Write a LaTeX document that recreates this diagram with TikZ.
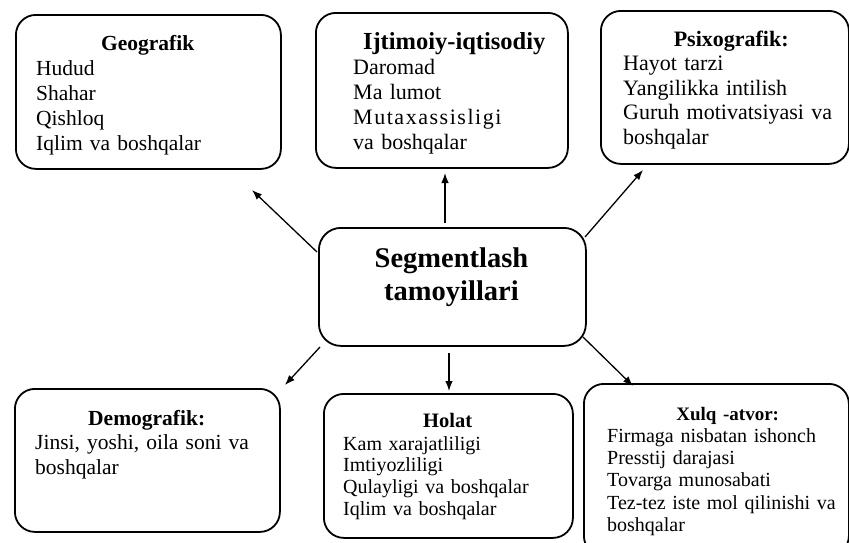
\documentclass[tikz,border=0pt]{standalone}
\usepackage{fontspec}
\setmainfont{Liberation Serif}
\usetikzlibrary{arrows.meta}

\begin{document}
\begin{tikzpicture}[x=1pt,y=-1pt,
  frame/.style={draw, line width=1.8pt, rounded corners=20pt, inner sep=0pt, anchor=north west},
  body/.style={inner sep=0pt, anchor=base west, align=left},
  link/.style={line width=1.3pt, -{Latex[length=10pt,width=7.5pt]}}]

\useasboundingbox[fill=white] (0,0) rectangle (849,542);

% ---- frames ----
\node[frame, minimum width=265pt, minimum height=154pt] (geo)   at (15,14)  {};
\node[frame, minimum width=252pt, minimum height=155pt] (soc)   at (315,12) {};
\node[frame, minimum width=248pt, minimum height=153pt] (psy)   at (600,10) {};
\node[frame, minimum width=267pt, minimum height=118pt, rounded corners=22pt] (seg) at (318,227) {};
\node[frame, minimum width=265pt, minimum height=143pt] (dem)   at (14,388) {};
\node[frame, minimum width=249pt, minimum height=144pt] (hol)   at (323,393) {};
\node[frame, minimum width=265pt, minimum height=172pt] (beh)   at (583,383) {};

% ---- centre title ----
\node[inner sep=0pt, anchor=base, text width=250pt, font=\fontsize{28.5}{33}\selectfont\bfseries, align=center]
  (segtxt) at (451.5,267) {Segmentlash\\tamoyillari};

% ---- texts ----
\node[body, text width=223pt, font=\fontsize{21.5}{25}\selectfont] (geotxt) at (36,50.5)
  {\makebox[\linewidth]{\bfseries Geografik}\\
   Hudud\\ Shahar\\ Qishloq\\ Iqlim va boshqalar};

\node[body, text width=202pt, font=\fontsize{22}{25}\selectfont] (soctxt) at (353,49)
  {\makebox[\linewidth]{\fontsize{24.5}{25}\selectfont\bfseries Ijtimoiy-iqtisodiy}\\
   Daromad\\ Ma lumot\\ {\addfontfeatures{LetterSpace=7}Mutaxassisligi}\\ va boshqalar};

\node[body, text width=216pt, font=\fontsize{22}{24.5}\selectfont] (psytxt) at (623,46)
  {\makebox[\linewidth]{\bfseries Psixografik:}\\
   Hayot tarzi\\ Yangilikka intilish\\
   \makebox[\linewidth][s]{Guruh motivatsiyasi va}\\ boshqalar};

\node[body, text width=223pt, font=\fontsize{21.5}{24.5}\selectfont] (demtxt) at (35,425)
  {\makebox[\linewidth]{\bfseries Demografik:}\\
   \makebox[\linewidth][s]{Jinsi, yoshi, oila soni va}\\ boshqalar};

\node[body, text width=209pt, font=\fontsize{20}{21.7}\selectfont] (holtxt) at (343,427)
  {\makebox[\linewidth]{\fontsize{20.5}{21.7}\selectfont\bfseries Holat}\\[1.3pt]
   Kam xarajatliligi\\ Imtiyozliligi\\ Qulayligi va boshqalar\\ Iqlim va boshqalar};

\node[body, text width=224pt, font=\fontsize{20}{22.3}\selectfont] (behtxt) at (607,420)
  {\makebox[\linewidth]{\hspace*{17pt}\fontsize{19}{22.3}\selectfont\bfseries Xulq -atvor:}\\
   Firmaga nisbatan ishonch\\ Presstij darajasi\\ Tovarga munosabati\\
   \makebox[\linewidth][s]{Tez-tez iste mol qilinishi va}\\ boshqalar};

% ---- arrow ends ----
\coordinate (s1) at (317,252); \coordinate (e1) at (252,190);
\coordinate (s2) at (445,223); \coordinate (e2) at (445,173);
\coordinate (s3) at (585,237); \coordinate (e3) at (643,170);
\coordinate (s4) at (320,347); \coordinate (e4) at (285,385);
\coordinate (s5) at (449,353); \coordinate (e5) at (449,391);
\coordinate (s6) at (583,337); \coordinate (e6) at (633,386);

\draw[link] (s1) -- (e1);
\draw[link] (s2) -- (e2);
\draw[link] (s3) -- (e3);
\draw[link] (s4) -- (e4);
\draw[link] (s5) -- (e5);
\draw[link] (s6) -- (e6);
\end{tikzpicture}
\end{document}
